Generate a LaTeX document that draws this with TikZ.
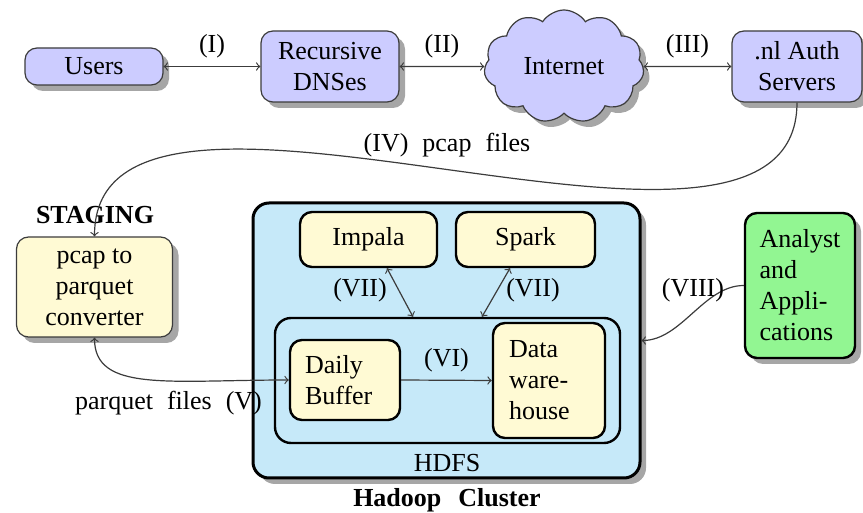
\documentclass[tikz,border=0pt]{standalone}
\usepackage{fontspec}
\setmainfont{Liberation Serif}
\usetikzlibrary{shapes.symbols,shadows,calc,arrows}
\definecolor{lav}{RGB}{204,204,255}
\definecolor{cream}{RGB}{255,250,212}
\definecolor{skyb}{RGB}{198,233,249}
\definecolor{grn}{RGB}{146,246,146}
\definecolor{edgec}{RGB}{60,60,60}
\newcommand{\widespc}[1]{\spaceskip=#1\relax}
\tikzset{
  every node/.style={font=\fontsize{13}{15.5}\selectfont, inner sep=0pt},
  shad/.style={drop shadow={shadow xshift=3pt, shadow yshift=-3pt, fill=black, opacity=0.35}},
  topbox/.style={draw=edgec, line width=0.6pt, fill=lav, rounded corners=6pt, align=center, shad},
  stagebox/.style={draw=edgec, line width=0.6pt, fill=cream, rounded corners=6pt, align=center, shad},
  inbox/.style={draw=black, line width=1.2pt, fill=cream, rounded corners=6pt},
  conn/.style={draw=edgec, line width=0.6pt, -to},
  biconn/.style={draw=edgec, line width=0.6pt, to-to},
}
\begin{document}
\begin{tikzpicture}[x=0.5pt,y=-0.5pt]
\useasboundingbox (0,0) rectangle (863,513);
% top row
\node[topbox, minimum width=69pt, minimum height=18.5pt] (users) at (94,66.5) {Users};
\node[topbox, minimum width=69pt, minimum height=35.5pt] (dns) at (330,66.5) {Recursive\\DNSes};
\node[cloud, cloud puffs=11, cloud puff arc=115, aspect=1.4, draw=edgec, line width=0.6pt, fill=lav, shad,
      minimum width=80pt, minimum height=56.5pt] (net) at (564,66.5) {Internet};
\node[topbox, minimum width=65pt, minimum height=35.5pt] (auth) at (797,66.5) {.nl Auth\\Servers};
\draw[biconn] (users.east) -- node[above=4pt] {(I)} (dns.west);
\draw[biconn] (dns.east) -- node[above=4pt] {(II)} (net.west);
\draw[biconn] (net.east) -- node[above=4pt] {(III)} (auth.west);
% staging
\node[font=\fontsize{13}{15.5}\selectfont\bfseries] (staging) at (95,215) {STAGING};
\node[stagebox, minimum width=78pt, minimum height=50pt] (pcap) at (94.5,287) {pcap to\\parquet\\converter};
\draw[conn] (auth.south) .. controls +(0,230) and +(0,-230) .. (pcap.north);
\node (pcaplbl) at (447,145) {\widespc{7pt}(IV) pcap files};
% hadoop
\node[draw=black, line width=1.5pt, fill=skyb, rounded corners=8pt, shad,
      minimum width=193.5pt, minimum height=137.5pt] (hadoop) at (446.5,340.5) {};
\node[inbox, minimum width=68.5pt, minimum height=27.5pt] (impala) at (368.5,239.5) {Impala};
\node[inbox, minimum width=69.5pt, minimum height=27.5pt] (spark) at (525.5,239.5) {Spark};
\node[draw=black, line width=1.2pt, fill=skyb, rounded corners=8pt,
      minimum width=172.5pt, minimum height=62.5pt] (hdfs) at (447.5,380.5) {};
\node[inbox, minimum width=55pt, minimum height=40pt, text width=40pt, align=left] (daily) at (345,380) {Daily\\Buffer};
\node[inbox, minimum width=56pt, minimum height=57.5pt, text width=40pt, align=left] (dw) at (549,380.5) {Data\\ware-\\house};
\node (hdfslbl) at (447,463) {HDFS};
\node[font=\fontsize{13}{15.5}\selectfont\bfseries] (hadooplbl) at (447,500) {\widespc{8.5pt}Hadoop Cluster};
\draw[conn] (daily.east) -- node[above=4pt] {(VI)} (dw.west);
\draw[biconn] ($(impala.south)+(18.5,0)$) -- ($(hdfs.north)+(-34.5,0)$);
\draw[biconn] ($(spark.south)+(-15.5,0)$) -- ($(hdfs.north)+(34.5,0)$);
\node (vii1) at (360,290) {(VII)};
\node (vii2) at (533,290) {(VII)};
\draw[biconn] (pcap.south) .. controls +(0,55) and +(-120,0) .. (daily.west);
\node (parqlbl) at (168.5,403) {\widespc{7pt}parquet files (V)};
% analyst
\node[draw=black, line width=1.2pt, fill=grn, rounded corners=6pt, shad, align=left,
      minimum width=55pt, minimum height=72.5pt] (analyst) at (800,285.5) {Analyst\\and\\Appli-\\cations};
\draw[conn] (analyst.west) .. controls +(-40,0) and +(40,0) .. (hadoop.east);
\node (viii) at (693,290) {(VIII)};
\end{tikzpicture}
\end{document}
